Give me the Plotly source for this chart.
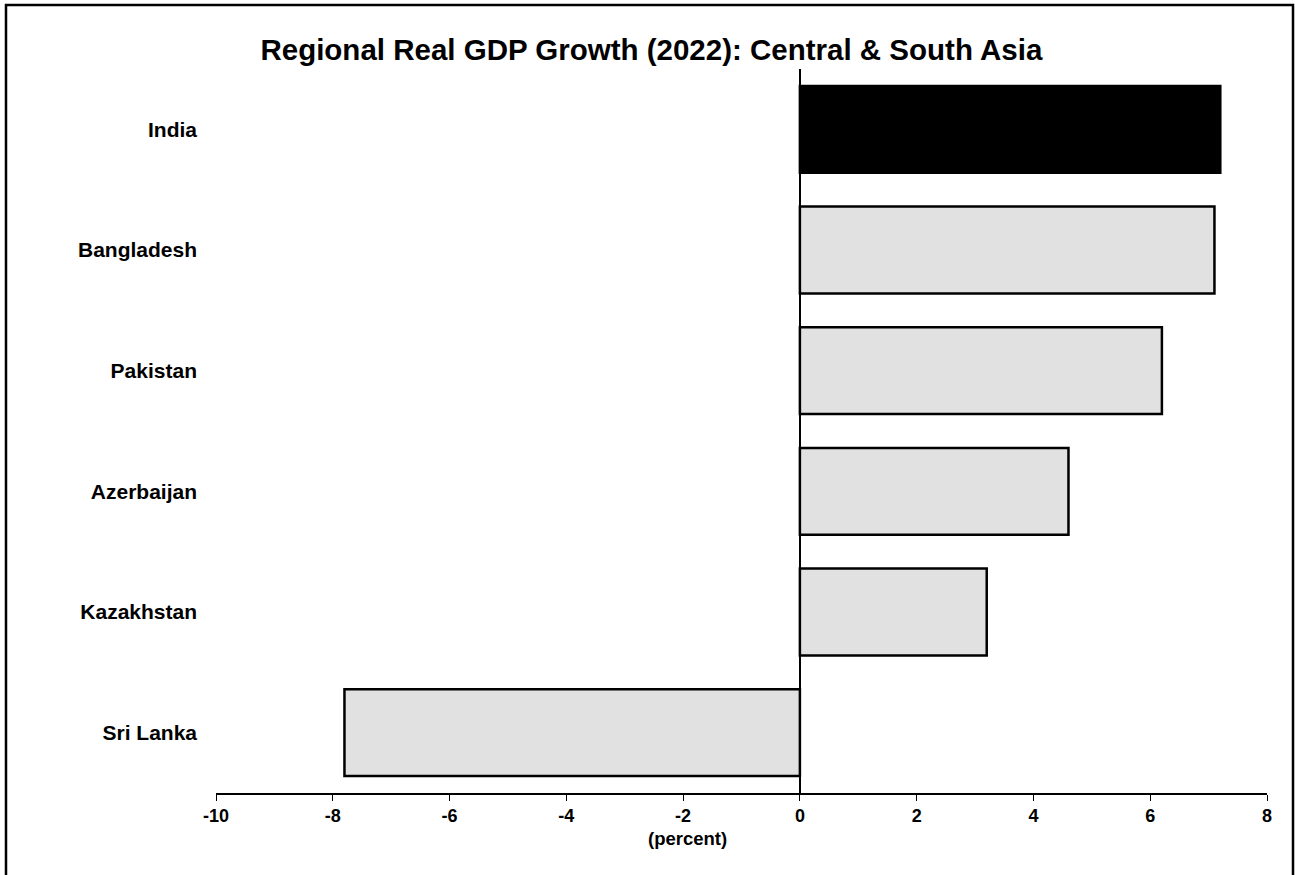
import plotly.graph_objects as go

countries = ["India", "Bangladesh", "Pakistan", "Azerbaijan", "Kazakhstan", "Sri Lanka"]
growth = [7.2, 7.1, 6.2, 4.6, 3.2, -7.8]
fill_colors = ["#000000", "#e1e1e1", "#e1e1e1", "#e1e1e1", "#e1e1e1", "#e1e1e1"]
x_ticks = [-10, -8, -6, -4, -2, 0, 2, 4, 6, 8]

FONT = "Arial, 'Liberation Sans', sans-serif"

fig = go.Figure(go.Bar(
    x=growth, y=countries, orientation="h",
    marker=dict(color=fill_colors, line=dict(color="black", width=2.5)),
    width=0.72,
))

fig.update_layout(
    width=1295, height=875,
    paper_bgcolor="white", plot_bgcolor="white",
    margin=dict(l=216, r=28, t=69, b=82),
    showlegend=False,
    font=dict(family=FONT, color="black"),
    title=dict(
        text="<b>Regional Real GDP Growth (2022): Central & South Asia</b>",
        x=0.503, xref="container", xanchor="center",
        y=1 - 50/875, yref="container", yanchor="middle",
        font=dict(size=29.5, family=FONT, color="black"),
    ),
    xaxis=dict(
        range=[-10, 8], tickvals=x_ticks,
        ticktext=[f"<b>{v}</b>" for v in x_ticks],
        tickfont=dict(size=18, family=FONT, color="black"),
        ticks="outside", ticklen=6, tickwidth=1, tickcolor="black",
        showline=True, linecolor="black", linewidth=1.5,
        showgrid=False,
        zeroline=True, zerolinecolor="black", zerolinewidth=2,
    ),
    yaxis=dict(
        categoryorder="array", categoryarray=countries[::-1],
        tickvals=countries, ticktext=[f"<b>{c}</b>" for c in countries],
        tickfont=dict(size=21, family=FONT, color="black"),
        ticks="", showline=False, showgrid=False, zeroline=False,
        ticklabelstandoff=18,
    ),
    annotations=[dict(
        text="<b>(percent)</b>", xref="paper", yref="paper",
        x=(687.5 - 216) / 1051, y=(793 - 838) / 724,
        xanchor="center", yanchor="middle", showarrow=False,
        font=dict(size=18.5, family=FONT, color="black"),
    )],
    shapes=[dict(
        type="rect", xref="paper", yref="paper",
        x0=-216/1051 + 6/1051, x1=1 + 26/1051,
        y0=-82/724 - 10/724, y1=1 + 64/724,
        line=dict(color="black", width=2.5), fillcolor="rgba(0,0,0,0)", layer="below",
    )],
)

fig.write_html("out.html")
